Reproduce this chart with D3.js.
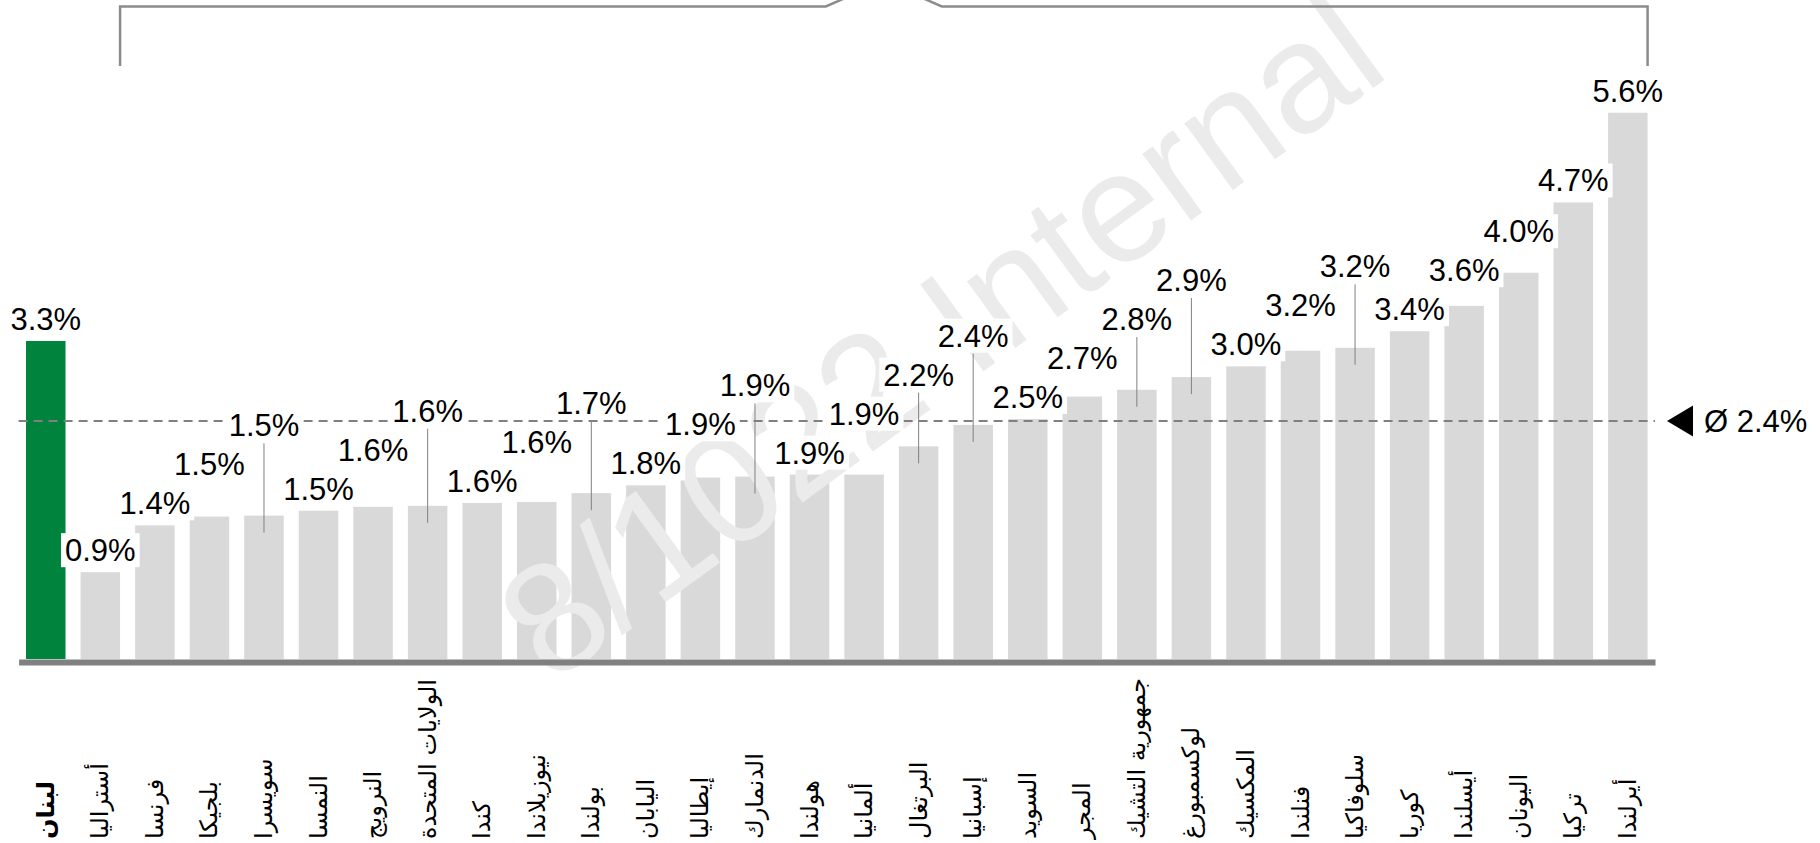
<!DOCTYPE html>
<html>
<head>
<meta charset="utf-8">
<script src="https://cdn.jsdelivr.net/npm/d3@7"></script>
<style>
  html, body { margin: 0; padding: 0; background: #fff; }
  svg { display: block; }
</style>
</head>
<body>
<div id="chart"></div>
<script>
// Data (share, %)
const countries = [
  'لبنان', 'أستراليا', 'فرنسا', 'بلجيكا', 'سويسرا', 'النمسا', 'النرويج',
  'الولايات المتحدة', 'كندا', 'نيوزيلاندا', 'بولندا', 'اليابان', 'إيطاليا',
  'الدنمارك', 'هولندا', 'ألمانيا', 'البرتغال', 'إسبانيا', 'السويد', 'المجر',
  'جمهورية التشيك', 'لوكسمبورغ', 'المكسيك', 'فنلندا', 'سلوفاكيا', 'كوريا',
  'أيسلندا', 'اليونان', 'تركيا', 'أيرلندا'
];
const values = [
  3.26, 0.89, 1.37, 1.46, 1.47, 1.52, 1.56,
  1.57, 1.60, 1.61, 1.70, 1.78, 1.86,
  1.87, 1.89, 1.89, 2.18, 2.40, 2.46, 2.69,
  2.76, 2.89, 3.00, 3.16, 3.19, 3.36,
  3.62, 3.96, 4.68, 5.60
];
const highlight = 'لبنان';
const average = 2.44;
const watermarkText = '8/1022 Internal';

const W = 1820, H = 843;
const baseY = 659;

const svg = d3.select('#chart').append('svg')
  .attr('width', W)
  .attr('height', H);

const x = d3.scaleBand()
  .domain(countries)
  .range([18.6, 1655])
  .paddingInner(0.276)
  .paddingOuter(0.136);

const y = d3.scaleLinear()
  .domain([0, 6])
  .range([baseY, baseY - 6 * 97.55]);

const bw = x.bandwidth();
const data = countries.map((c, i) => ({ name: c, value: values[i] }));

// Bars
svg.append('g')
  .selectAll('rect')
  .data(data)
  .enter()
  .append('rect')
  .attr('x', d => x(d.name))
  .attr('y', d => y(d.value))
  .attr('width', bw)
  .attr('height', d => baseY - y(d.value))
  .attr('fill', d => d.name === highlight ? '#00843d' : '#d9d9d9');

// Watermark
svg.append('text')
  .attr('transform', 'translate(940,336) rotate(-36)')
  .attr('text-anchor', 'middle')
  .attr('dominant-baseline', 'central')
  .attr('font-family', 'Liberation Sans, Arial, sans-serif')
  .attr('font-size', 156)
  .attr('fill', '#ebebeb')
  .text(watermarkText);

// Average line + marker
const avgY = y(average);
const [x0, x1] = x.range();
svg.append('line')
  .attr('x1', x0)
  .attr('x2', x1)
  .attr('y1', avgY)
  .attr('y2', avgY)
  .attr('stroke', '#808080')
  .attr('stroke-width', 2)
  .attr('stroke-dasharray', '9,6');

svg.append('path')
  .attr('d', `M${x1 + 12},${avgY} L${x1 + 38},${avgY - 15.5} L${x1 + 38},${avgY + 15.5} Z`)
  .attr('fill', '#000');

svg.append('text')
  .attr('x', x1 + 49)
  .attr('y', avgY + 11)
  .attr('font-family', 'Liberation Sans, Arial, sans-serif')
  .attr('font-size', 31)
  .attr('fill', '#000')
  .text('Ø ' + d3.format('.1f')(average) + '%');

// Value labels: sit above the bar, pushed up when they hit the previous one
const fmt = v => d3.format('.1f')(v) + '%';
const capH = 23, gap = 16, lift = 11;
let prev = null;
data.forEach(d => {
  let b = y(d.value) - lift;
  if (prev && b - capH < prev + gap && b > prev - capH - gap) {
    b = prev - capH - gap;
  }
  d.labelY = b;
  prev = b;
});

const labels = svg.append('g')
  .attr('font-family', 'Liberation Sans, Arial, sans-serif')
  .attr('font-size', 31);

const lg = labels.selectAll('g')
  .data(data)
  .enter()
  .append('g');

lg.append('rect').attr('fill', '#fff');
lg.append('text')
  .attr('x', d => x(d.name) + bw / 2)
  .attr('y', d => d.labelY)
  .attr('text-anchor', 'middle')
  .attr('fill', '#000')
  .text(d => fmt(d.value));

lg.each(function (d) {
  const t = d3.select(this).select('text');
  const w = t.node().getComputedTextLength();
  d3.select(this).select('rect')
    .attr('x', x(d.name) + bw / 2 - w / 2 - 4)
    .attr('y', d.labelY - 28)
    .attr('width', w + 8)
    .attr('height', 34);
});

// Leader lines for labels lifted far from their bar
svg.append('g')
  .selectAll('line')
  .data(data.filter(d => y(d.value) - d.labelY > 50))
  .enter()
  .append('line')
  .attr('x1', d => x(d.name) + bw / 2)
  .attr('x2', d => x(d.name) + bw / 2)
  .attr('y1', d => d.labelY + 7)
  .attr('y2', d => y(d.value) + 17)
  .attr('stroke', '#808080')
  .attr('stroke-width', 1);

// Base axis line
svg.append('g')
  .attr('transform', `translate(0,${baseY + 3})`)
  .call(d3.axisBottom(x).tickSize(0).tickSizeOuter(0).tickFormat(''))
  .call(g => g.select('.domain').attr('stroke', '#808080').attr('stroke-width', 6));

// Category labels, rotated, reading upward from the bottom edge
svg.append('g')
  .selectAll('text')
  .data(data)
  .enter()
  .append('text')
  .attr('transform', d => `translate(${x(d.name) + bw / 2 + 8},839) rotate(-90)`)
  .attr('text-anchor', 'start')
  .attr('font-family', 'DejaVu Sans, sans-serif')
  .attr('font-size', 24)
  .attr('font-weight', d => d.name === highlight ? 'bold' : 'normal')
  .attr('fill', '#000')
  .text(d => d.name);

// Bracket over the comparison countries
const bl = x(countries[1]) + bw;
const br = x(countries[countries.length - 1]) + bw;
const bm = (bl + br) / 2;
svg.append('path')
  .attr('d', `M${bl},66 V6.5 H${bm - 58} L${bm},-19 L${bm + 58},6.5 H${br} V66`)
  .attr('fill', 'none')
  .attr('stroke', '#8c8c8c')
  .attr('stroke-width', 2.5);
</script>
</body>
</html>
